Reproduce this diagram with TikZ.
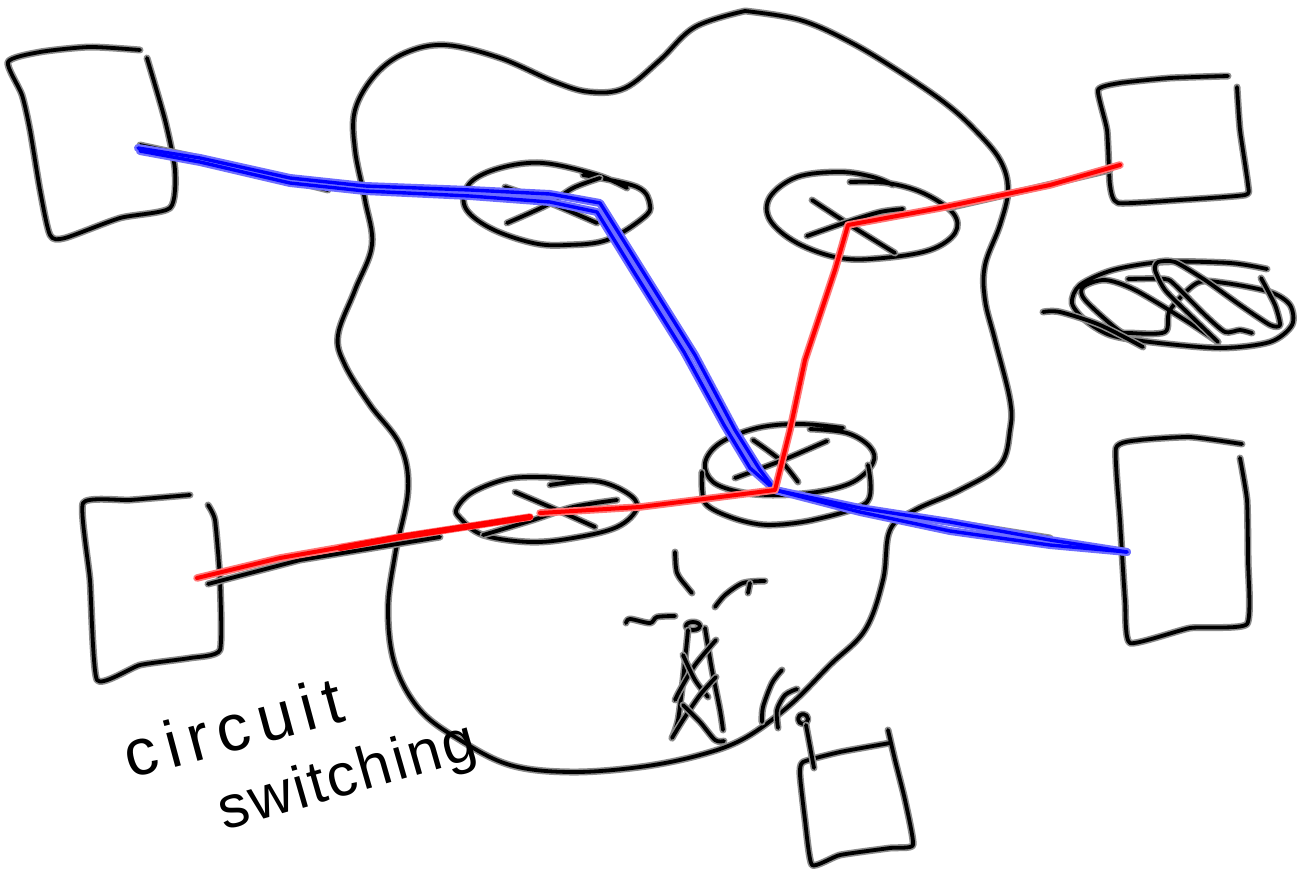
\documentclass[tikz,border=0pt]{standalone}
\usepackage{fontspec}
\newfontfamily\handfont[LetterSpace=13]{Liberation Sans}
\newfontfamily\handnarrow[LetterSpace=4]{Liberation Sans}
\definecolor{inkgray}{RGB}{140,140,140}
\definecolor{paleblue}{RGB}{110,110,255}
\definecolor{palered}{RGB}{255,120,120}
\tikzset{
    ink/.style={draw=black,line width=3.8pt,line cap=round,line join=round},
    inkhalo/.style={draw=inkgray,line width=7pt,line cap=round,line join=round},
    bluecore/.style={draw=blue,line width=3.4pt,line cap=round,line join=round},
    bluehalo/.style={draw=paleblue,line width=8pt,line cap=round,line join=round},
    redcore/.style={draw=red,line width=4pt,line cap=round,line join=round},
    redhalo/.style={draw=palered,line width=7.5pt,line cap=round,line join=round},
    handtext/.style={anchor=base,inner sep=0pt,text=black},
}
\newcommand\inkline[1]{\draw[inkhalo] #1; \draw[ink] #1;}
\newcommand\curve[2][0.5]{\inkline{plot[smooth,tension=#1] coordinates {#2}}}
\begin{document}
\begin{tikzpicture}[x=1pt,y=-1pt]
\useasboundingbox (0,0) rectangle (1310,873);
\coordinate (hub) at (775,490);
\coordinate (rightr) at (848,225);
% network outline
\curve[0.6]{(745,11) (800,20) (850,42) (900,72) (945,103) (975,130) (1000,160) (1008,190) (1000,225) (985,265) (985,300) (995,340) (1010,400) (1010,430) (1000,465) (960,490) (915,510) (890,530) (883,580) (865,630) (830,665) (790,705) (745,738) (700,755) (640,767) (570,772) (510,765) (460,740) (420,710) (395,665) (388,610) (395,555) (408,490) (400,445) (370,405) (345,365) (338,335) (355,290) (372,245) (365,200) (355,150) (355,110) (375,75) (405,53) (445,45) (500,58) (555,82) (590,92) (625,88) (660,60) (695,27) (745,11)}
% hosts
\curve[0.4]{(140,50) (90,47) (40,52) (8,62) (22,95) (30,130) (40,190) (50,235) (65,238) (120,218) (170,208) (175,170) (165,120) (147,58)}
\curve[0.3]{(1228,76) (1170,78) (1120,83) (1098,90) (1107,130) (1110,185) (1118,203) (1180,200) (1245,195) (1248,185) (1240,130) (1237,87)}
\curve[0.3]{(1242,444) (1190,437) (1140,440) (1116,448) (1120,520) (1125,600) (1130,643) (1190,628) (1247,624) (1248,560) (1247,500) (1240,458)}
\curve[0.3]{(190,495) (130,500) (83,503) (90,580) (97,680) (140,665) (190,658) (220,650) (220,580) (215,520) (208,505)}
\curve[0.3]{(890,743) (840,752) (803,762) (800,775) (805,820) (812,865) (840,855) (890,848) (913,845) (905,800) (895,760) (888,730)}
\inkline{(803,719) circle[radius=5pt]}
\inkline{(806,725) -- (814,768)}
\curve{(782,670) (772,683) (763,707) (762,722)}
\curve{(797,689) (785,695) (777,710) (778,728)}
% switches
\curve[0.6]{(627,188) (597,175) (543,163) (500,168) (470,183) (465,207) (490,228) (533,243) (567,245) (607,240) (643,218) (650,205) (637,187) (583,175)}
\curve{(505,187) (550,203) (597,223)}
\curve{(507,223) (547,205) (573,188) (600,178)}
\curve[0.6]{(850,182) (887,183) (923,193) (953,213) (955,233) (930,250) (883,258) (840,258) (797,243) (770,220) (770,197) (797,177) (840,172) (873,177) (893,185)}
\curve{(812,200) (850,225) (895,253)}
\curve{(807,236) (847,222) (880,212) (903,209)}
\curve[0.6]{(843,428) (800,424) (757,428) (720,443) (705,463) (713,482) (740,492) (773,495) (817,492) (853,482) (873,463) (870,447) (847,433) (810,429)}
\curve{(702,472) (705,503) (733,518) (767,525) (813,520) (867,502) (868,465)}
\curve{(753,440) (780,460) (798,482)}
\curve{(735,478) (783,460) (827,441)}
\curve[0.6]{(550,485) (595,481) (627,493) (637,508) (617,527) (573,538) (530,542) (483,535) (460,518) (457,508) (473,492) (507,479) (540,477) (573,479) (595,481)}
\curve{(515,492) (557,510) (595,527)}
\curve{(483,535) (533,520) (573,507) (617,500)}
% scribbled-out switch
\curve{(1267,269) (1230,263) (1163,262) (1113,270) (1080,285) (1072,303) (1085,320) (1110,335) (1150,342) (1220,348) (1270,342) (1292,325) (1290,305) (1270,292) (1225,283) (1197,283) (1170,310) (1165,332) (1130,333) (1118,330) (1085,300) (1083,287) (1105,280) (1135,290) (1185,320) (1218,342)}
\curve{(1043,312) (1060,312) (1100,325) (1143,347)}
\curve[0.4]{(1128,279) (1165,279) (1175,285) (1205,315) (1225,332) (1240,330) (1252,333)}
\curve[0.4]{(1218,342) (1190,315) (1165,290) (1155,270) (1158,262) (1175,262) (1205,280) (1240,305) (1270,325) (1280,325) (1275,305) (1261,278)}
% tower
\inkline{(693,626) ellipse[x radius=7pt,y radius=4pt]}
\curve{(688,630) (683,680) (678,720) (672,738)}
\curve{(705,628) (712,670) (720,710) (723,730)}
\curve{(716,640) (695,665) (680,690) (675,700)}
\curve{(683,655) (695,680) (708,697)}
\curve{(716,677) (700,695) (683,720) (672,738)}
\curve{(683,705) (700,722) (715,740) (724,741)}
\curve{(675,552) (677,573) (687,587) (692,593)}
\curve{(715,607) (725,595) (743,583) (765,581)}
\curve{(748,593) (750,583)}
\curve{(626,623) (630,619) (650,623) (657,617) (675,616)}
% ink under the wires
\inkline{(140,145) -- (200,158) -- (328,190)}
\inkline{(948,208) -- (1005,195) -- (1110,170)}
\inkline{(208,584) -- (300,560) -- (440,537)}
\inkline{(890,513) -- (950,522) -- (1050,538)}
% wires
\draw[bluehalo] (138,148) -- (200,158) -- (290,178) -- (365,186) -- (470,190) -- (550,194) -- (600,203) -- (645,275) -- (695,355) -- (735,430) -- (760,470) -- (hub) -- (860,508) -- (950,522) -- (1050,540) -- (1127,552);
\draw[bluehalo] (140,151) -- (200,162) -- (290,183) -- (365,191) -- (470,196) -- (550,202) -- (597,212) -- (634,272) -- (684,352) -- (724,425) -- (750,468) -- (hub) -- (860,512) -- (950,531) -- (1050,545) -- (1127,552);
\draw[bluecore] (138,148) -- (200,158) -- (290,178) -- (365,186) -- (470,190) -- (550,194) -- (600,203) -- (645,275) -- (695,355) -- (735,430) -- (760,470) -- (hub) -- (860,508) -- (950,522) -- (1050,540) -- (1127,552);
\draw[bluecore] (140,151) -- (200,162) -- (290,183) -- (365,191) -- (470,196) -- (550,202) -- (597,212) -- (634,272) -- (684,352) -- (724,425) -- (750,468) -- (hub) -- (860,512) -- (950,531) -- (1050,545) -- (1127,552);
\draw[redhalo] (197,578) -- (280,558) -- (400,537) -- (530,517);
\draw[redhalo] (540,513) -- (640,507) -- (720,497) -- (hub) -- (790,430) -- (805,360) -- (835,270) -- (rightr) -- (940,208) -- (1050,185) -- (1120,165);
\draw[redcore] (197,578) -- (280,558) -- (400,537) -- (530,517);
\draw[redcore] (540,513) -- (640,507) -- (720,497) -- (hub) -- (790,430) -- (805,360) -- (835,270) -- (rightr) -- (940,208) -- (1050,185) -- (1120,165);
\draw[draw=red,line width=6pt,line cap=round] (340,548) -- (400,537) -- (530,517);
% title
\node[handtext,rotate=15,font=\handfont\fontsize{66}{66}\selectfont] (circuit) at (239,750) {circuit};
\node[handtext,rotate=16,font=\handnarrow\fontsize{60}{60}\selectfont] (switching) at (352,794) {switching};
\end{tikzpicture}
\end{document}
